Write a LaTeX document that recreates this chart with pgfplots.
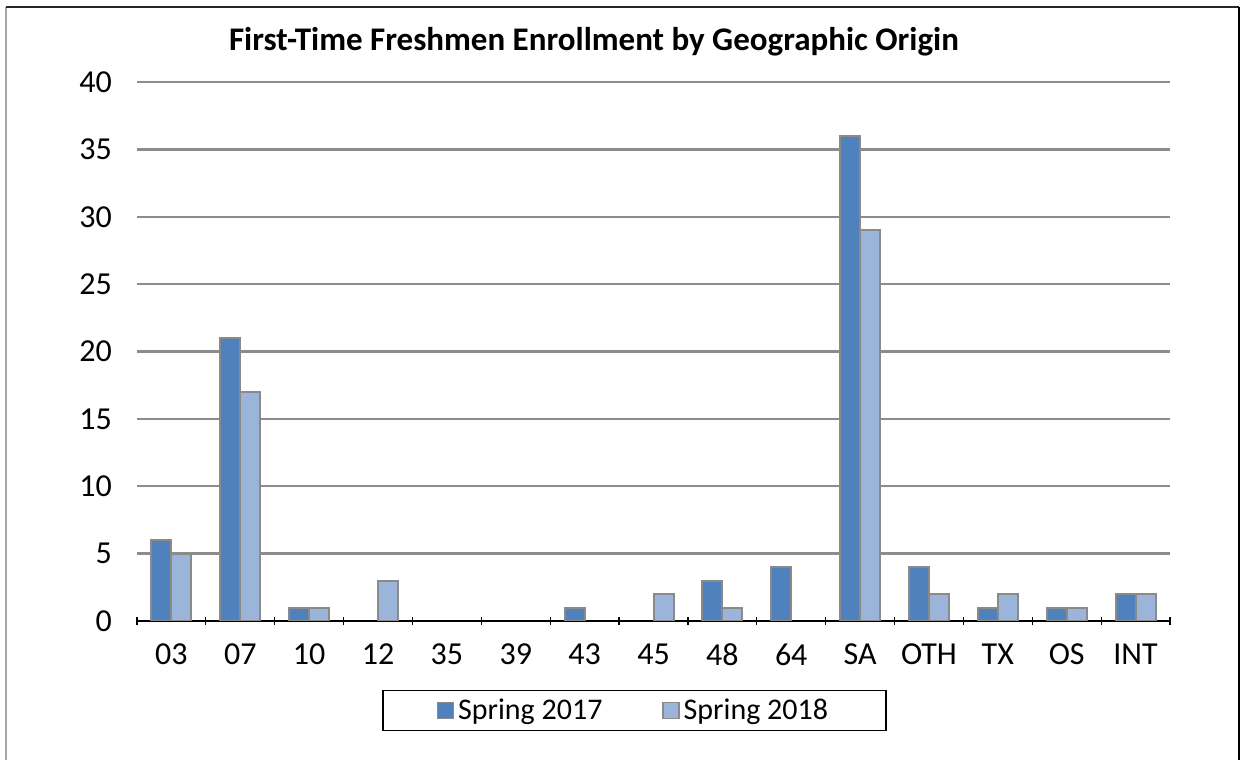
\documentclass[border=0pt]{standalone}
\usepackage{fontspec}
\setmainfont{Carlito}
\usepackage{pgfplots}
\pgfplotsset{compat=1.18}
\definecolor{darkbar}{RGB}{79,129,189}
\definecolor{lightbar}{RGB}{155,180,218}
\definecolor{bedge}{RGB}{138,138,138}
\definecolor{gridc}{RGB}{140,140,140}

\begin{document}
\begin{tikzpicture}
\useasboundingbox (0,0) rectangle (621.5pt,380pt);
% chart frame
\draw[gray!70, line width=0.9pt] (3pt,0) -- (3pt,376.5pt);
\draw[black!85, line width=0.7pt] (3pt,376.5pt) -- (619.5pt,376.5pt);
\draw[black, line width=0.9pt] (619.5pt,0) -- (619.5pt,376.5pt);
\node[font=\fontsize{16.5}{18}\selectfont\bfseries] at (297pt,359pt)
  {First-Time Freshmen Enrollment by Geographic Origin};
\begin{axis}[
  at={(68.5pt,69.5pt)}, anchor=south west,
  scale only axis,
  width=516.5pt, height=269.5pt,
  ybar=0pt, bar width=10pt,
  xmin=-0.5, xmax=14.5,
  ymin=0, ymax=40,
  ytick={0,5,...,40},
  xtick={0,...,14},
  xticklabels={03,07,10,12,35,39,43,45,48,64,SA,OTH,TX,OS,INT},
  minor xtick={-0.5,0.5,...,14.5},
  major tick length=0pt,
  minor tick length=4pt,
  tick align=outside,
  tick style={black, line width=0.6pt},
  axis x line=bottom,
  axis y line=left,
  x axis line style={black, line width=0.8pt, -},
  y axis line style={draw=none},
  ymajorgrids,
  grid style={gridc, line width=1.2pt},
  /pgf/number format/assume math mode=true,
  ticklabel style={font=\fontsize{16}{18}\selectfont},
  yticklabel style={xshift=-9pt},
  xticklabel style={yshift=-8pt},
  legend style={
    at={(0.4816,-0.166)}, anchor=center,
    draw=black, line width=0.6pt,
    font=\fontsize{15}{17}\selectfont,
    inner xsep=27pt, inner ysep=2pt,
    /tikz/every even column/.append style={column sep=28pt},
  },
  legend columns=2,
  legend image code/.code={\draw[#1, line width=0.6pt] (-1pt,-4pt) rectangle (7pt,4pt);},
]
\addplot[fill=darkbar, draw=bedge, line width=1pt] coordinates {
  (0,6) (1,21) (2,1) (6,1) (8,3) (9,4) (10,36) (11,4) (12,1) (13,1) (14,2)
};
\addplot[fill=lightbar, draw=bedge, line width=1pt] coordinates {
  (0,5) (1,17) (2,1) (3,3) (7,2) (8,1) (10,29) (11,2) (12,2) (13,1) (14,2)
};
\legend{Spring 2017, Spring 2018}
\end{axis}
\end{tikzpicture}
\end{document}
